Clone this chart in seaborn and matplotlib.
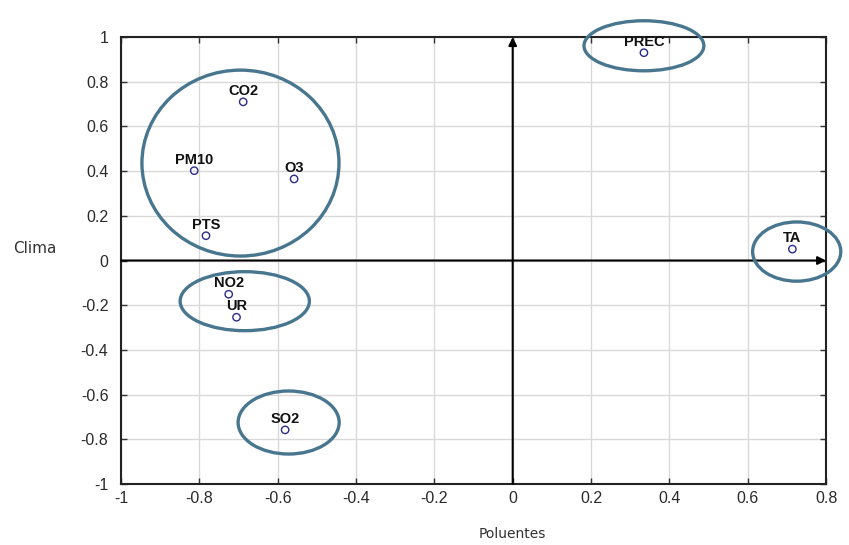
import matplotlib
matplotlib.use("Agg")
import matplotlib.pyplot as plt
from matplotlib.patches import Ellipse
import seaborn as sns
import pandas as pd

# Variable loadings on the two factors
variables = ["CO2", "PM10", "O3", "PTS", "NO2", "UR", "SO2", "PREC", "TA"]
poluentes = [-0.688, -0.813, -0.558, -0.783, -0.725, -0.705, -0.581, 0.335, 0.714]
clima = [0.710, 0.402, 0.365, 0.111, -0.151, -0.254, -0.758, 0.930, 0.051]

# Groups drawn as ellipses: centre x, centre y, width, height
group_cx = [-0.695, -0.684, -0.572, 0.335, 0.725]
group_cy = [0.436, -0.182, -0.725, 0.961, 0.040]
group_w = [0.503, 0.330, 0.258, 0.306, 0.225]
group_h = [0.832, 0.264, 0.282, 0.224, 0.265]

x_ticks = [-1, -0.8, -0.6, -0.4, -0.2, 0, 0.2, 0.4, 0.6, 0.8]
y_ticks = [-1, -0.8, -0.6, -0.4, -0.2, 0, 0.2, 0.4, 0.6, 0.8, 1]

df = pd.DataFrame({"var": variables, "Poluentes": poluentes, "Clima": clima})

sns.set_theme(style="whitegrid")
plt.rcParams["font.family"] = ["Liberation Sans", "DejaVu Sans"]

fig = plt.figure(figsize=(8.49, 5.45), dpi=100)
ax = fig.add_axes([0.1425, 0.112, 0.8305, 0.820])
ax.set_facecolor("white")

ax.set_xlim(-1, 0.8)
ax.set_ylim(-1, 1)
ax.set_xticks(x_ticks)
ax.set_yticks(y_ticks)
ax.set_xticklabels([f"{v:g}" for v in x_ticks])
ax.set_yticklabels([f"{v:g}" for v in y_ticks])
ax.grid(True, color="#d9d9d9", linewidth=1.0)
ax.set_axisbelow(True)

for s in ax.spines.values():
    s.set_visible(True)
    s.set_color("#222222")
    s.set_linewidth(1.5)

ax.tick_params(axis="both", which="both", direction="in", length=4, width=1,
               color="#333333", labelsize=11.5, labelcolor="#2a2a2a",
               top=True, right=True, bottom=True, left=True)
ax.tick_params(axis="x", pad=5)
ax.tick_params(axis="y", pad=9)

# Axes through the origin with arrowheads
ax.annotate("", xy=(0, 1.0), xytext=(0, -1.0),
            arrowprops=dict(arrowstyle="-|>", color="black", lw=1.5,
                            mutation_scale=12, shrinkA=0, shrinkB=0))
ax.annotate("", xy=(0.8, 0.0), xytext=(-1.0, 0.0),
            arrowprops=dict(arrowstyle="-|>", color="black", lw=1.5,
                            mutation_scale=12, shrinkA=0, shrinkB=0))

sns.scatterplot(data=df, x="Poluentes", y="Clima", ax=ax, marker="o", s=28,
                facecolors="none", edgecolor="#2b2b8c", linewidth=1.0,
                legend=False, zorder=5)

for name, xv, yv in zip(variables, poluentes, clima):
    ax.annotate(name, xy=(xv, yv), xytext=(0, 3), textcoords="offset points",
                ha="center", va="bottom", fontsize=10.5, fontweight="bold",
                color="#111111", zorder=6)

for cx, cy, w, h in zip(group_cx, group_cy, group_w, group_h):
    ax.add_patch(Ellipse((cx, cy), w, h, fill=False, edgecolor="#48768f",
                         linewidth=2.4, clip_on=False, zorder=7))

ax.set_xlabel("Poluentes", fontsize=10, color="#333333",
              family=["DejaVu Sans"])
ax.set_ylabel("Clima", fontsize=11, color="#333333", rotation=0,
              family=["DejaVu Sans"])
ax.xaxis.set_label_coords(0.555, -0.112)
ax.xaxis.label.set_verticalalignment("center")
ax.yaxis.set_label_coords(-0.122, 0.526)
ax.yaxis.label.set_verticalalignment("center")

fig.savefig("out.png", dpi=100, facecolor="white")
